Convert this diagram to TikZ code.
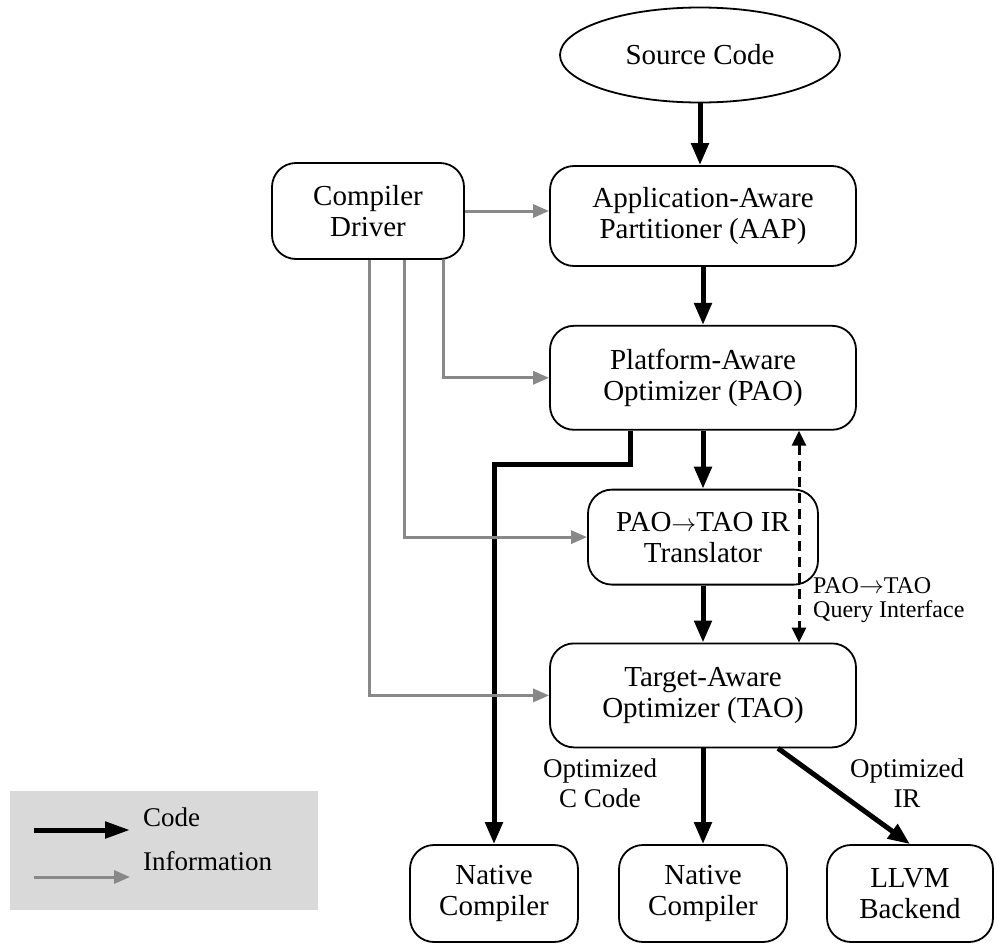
\documentclass[tikz,border=0pt]{standalone}
\usepackage{fontspec}
\setmainfont{Liberation Serif}
\usetikzlibrary{positioning,arrows.meta,shapes.geometric}

\definecolor{infogray}{RGB}{136,136,136}
\definecolor{legendgray}{RGB}{217,217,217}

\begin{document}
\begin{tikzpicture}[
    x=1pt, y=-1pt,
    node distance=58pt and 40pt,
    box/.style={draw, line width=1.8pt, rounded corners=24pt, align=center, minimum width=306pt, minimum height=100pt, inner sep=2pt, font=\fontsize{29pt}{31pt}\selectfont},
    oval/.style={draw, ellipse, line width=1.8pt, minimum width=280pt, minimum height=95pt, font=\fontsize{29pt}{31pt}\selectfont},
    lbl/.style={align=center, inner sep=0pt, font=\fontsize{27pt}{30pt}\selectfont},
    code/.style={line width=5pt, -{Triangle[length=22pt,width=17pt]}},
    info/.style={draw=infogray, line width=3pt, -{Triangle[length=16pt,width=13pt]}},
    query/.style={line width=3pt, dash pattern=on 10pt off 6pt, {Triangle[length=15pt,width=14pt]}-{Triangle[length=15pt,width=14pt]}}
  ]
  \useasboundingbox (0,0) rectangle (997,945);

  % main chain
  \node[oval] (src) at (700,55) {Source Code};
  \node[box] (aap) at (703,216) {Application-Aware\\Partitioner (AAP)};
  \node[box, minimum width=192pt, minimum height=96pt] (driver) at (368,211) {Compiler\\Driver};
  \node[box, minimum height=104pt, below=58pt of aap] (pao) {Platform-Aware\\Optimizer (PAO)};
  \node[box, minimum width=230pt, minimum height=95pt, below=58pt of pao] (trans) {PAO$\rightarrow$TAO IR\\Translator};
  \node[box, minimum height=104pt, below=57pt of trans] (tao) {Target-Aware\\Optimizer (TAO)};

  % back ends
  \node[box, minimum width=168pt, minimum height=97pt] (nat1) at (494,893.5) {Native\\Compiler};
  \node[box, minimum width=168pt, minimum height=97pt] (nat2) at (703,893.5) {Native\\Compiler};
  \node[box, minimum width=166pt, minimum height=97pt] (llvm) at (910,893.5) {LLVM\\Backend};

  \node[lbl] (optc) at (600,783) {Optimized\\C Code};
  \node[lbl] (optir) at (907,783) {Optimized\\IR};
  \node[lbl, anchor=west, align=left, font=\fontsize{24pt}{24pt}\selectfont] (qlab) at (813,600) {PAO$\rightarrow$TAO\\Query Interface};

  % code flow
  \draw[code] (src.south) -- (src.south |- aap.north);
  \draw[code] (aap) -- (pao);
  \draw[code] (pao) -- (trans);
  \draw[code] (trans) -- (tao);
  \draw[code] ([xshift=-73pt]pao.south) -- ++(0,34) -| (nat1.north);
  \draw[code] (tao.south) -- (nat2.north);
  \draw[code] ([xshift=75pt]tao.south) -- (llvm.north);
  \draw[query] ([xshift=96pt]pao.south) -- ([xshift=96pt]tao.north);

  % information from the driver
  \draw[info] (driver.east) -- (driver.east -| aap.west);
  \draw[info] ([xshift=75pt]driver.south) |- (pao.west);
  \draw[info] ([xshift=36pt]driver.south) |- (trans.west);
  \draw[info] ([xshift=1pt]driver.south) |- (tao.west);

  % legend
  \node[fill=legendgray, minimum width=308pt, minimum height=119pt] (legend) at (164,850.5) {};
  \node[lbl, anchor=west] (codetxt) at (143,817) {Code};
  \node[lbl, anchor=west] (infotxt) at (143,861) {Information};
  \coordinate (codefrom) at (34,830);
  \coordinate (codeto) at (130,830);
  \coordinate (infofrom) at (34,877);
  \coordinate (infoto) at (130,877);
  \draw[line width=5pt, -{Triangle[length=25pt,width=16pt]}] (codefrom) -- (codeto);
  \draw[info] (infofrom) -- (infoto);
\end{tikzpicture}
\end{document}
